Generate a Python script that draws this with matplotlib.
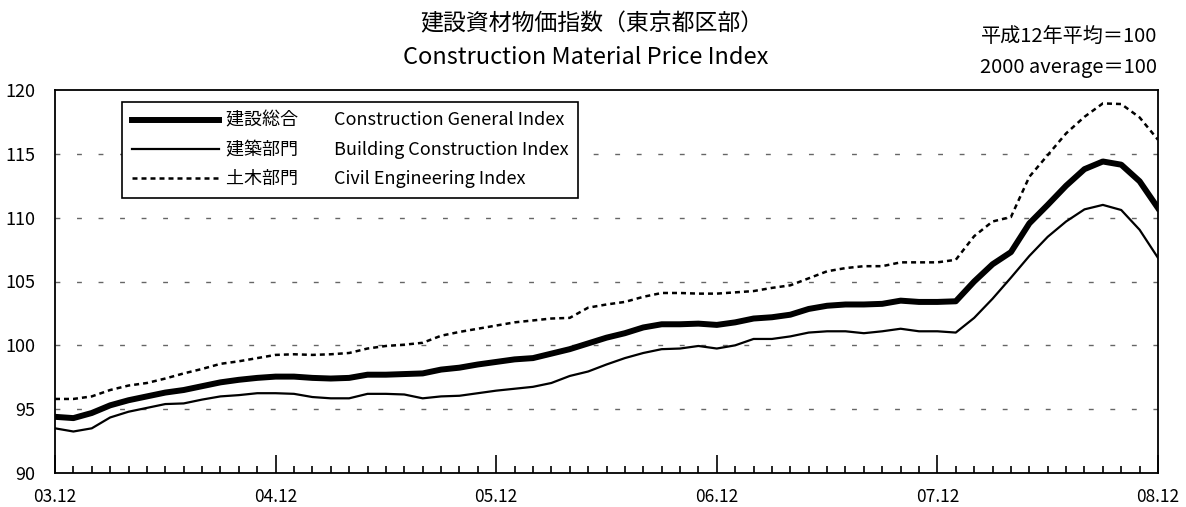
import numpy as np
import matplotlib
matplotlib.use('Agg')
from matplotlib import pyplot as plt
from matplotlib.ticker import MultipleLocator

plt.rcParams['font.family'] = ['Noto Sans CJK JP', 'DejaVu Sans']

# monthly values, Dec 2003 .. Dec 2008
general = [94.4, 94.3, 94.7, 95.3, 95.7, 96.0, 96.3, 96.5, 96.8, 97.1,
           97.3, 97.45, 97.55, 97.55, 97.45, 97.4, 97.45, 97.7, 97.7, 97.75,
           97.8, 98.1, 98.25, 98.5, 98.7, 98.9, 99.0, 99.35, 99.7, 100.15,
           100.6, 100.95, 101.4, 101.65, 101.65, 101.7, 101.6, 101.8, 102.1, 102.2,
           102.4, 102.85, 103.1, 103.2, 103.2, 103.25, 103.5, 103.4, 103.4, 103.45,
           105.0, 106.35, 107.3, 109.55, 111.0, 112.5, 113.8, 114.4, 114.15, 112.85,
           110.75]
building = [93.5, 93.25, 93.5, 94.35, 94.8, 95.1, 95.4, 95.45, 95.75, 96.0,
            96.1, 96.25, 96.25, 96.2, 95.95, 95.85, 95.85, 96.2, 96.2, 96.15,
            95.85, 96.0, 96.05, 96.25, 96.45, 96.6, 96.75, 97.05, 97.6, 97.95,
            98.5, 99.0, 99.4, 99.7, 99.75, 99.95, 99.75, 100.0, 100.5, 100.5,
            100.7, 101.0, 101.1, 101.1, 100.95, 101.1, 101.3, 101.1, 101.1, 101.0,
            102.15, 103.65, 105.3, 107.0, 108.5, 109.7, 110.65, 111.0, 110.6, 109.05,
            106.85]
civil = [95.8, 95.8, 96.0, 96.5, 96.85, 97.05, 97.4, 97.8, 98.15, 98.55,
         98.75, 99.0, 99.25, 99.3, 99.25, 99.3, 99.4, 99.75, 99.95, 100.05,
         100.2, 100.75, 101.05, 101.3, 101.55, 101.8, 101.95, 102.1, 102.15, 102.95,
         103.2, 103.4, 103.8, 104.1, 104.1, 104.05, 104.05, 104.15, 104.25, 104.5,
         104.7, 105.25, 105.8, 106.05, 106.2, 106.2, 106.5, 106.5, 106.5, 106.7,
         108.55, 109.7, 110.05, 113.2, 114.9, 116.6, 117.9, 118.95, 118.9, 117.85,
         116.1]
year_labels = ['03.12', '04.12', '05.12', '06.12', '07.12', '08.12']
series_labels = ['建設総合　　Construction General Index',
                 '建築部門　　Building Construction Index',
                 '土木部門　　Civil Engineering Index']

months = np.arange(len(general))

fig = plt.figure(figsize=(11.86, 5.07), dpi=100)
ax = fig.add_axes([55 / 1186, 1 - 473 / 507, 1103 / 1186, 383 / 507])

ax.plot(months, general, color='black', lw=4.3, label=series_labels[0])
ax.plot(months, building, color='black', lw=1.6, label=series_labels[1])
ax.plot(months, civil, color='black', lw=1.8, ls=(0, (2, 1.6)),
        label=series_labels[2])

ax.set_xlim(0, 60)
ax.set_ylim(90, 120)
ax.set_yticks([90, 95, 100, 105, 110, 115, 120])
for v in [95, 100, 105, 110, 115]:
    ax.axhline(v, color='#666666', lw=1.0, ls=(0, (3.5, 12)), zorder=0)

ax.set_xticks(np.arange(0, 61, 12))
ax.set_xticklabels(year_labels)
ax.xaxis.set_minor_locator(MultipleLocator(1))
ax.tick_params(axis='x', which='major', direction='in', length=13, width=1.2,
               labelsize=12.5, pad=11)
ax.tick_params(axis='x', which='minor', direction='in', length=5, width=1.2)
ax.tick_params(axis='y', which='major', direction='in', length=0,
               labelsize=13, pad=14)
for s in ax.spines.values():
    s.set_linewidth(1.3)

leg = ax.legend(loc='upper left', bbox_to_anchor=(67 / 1103, 1 - 12 / 383),
                fontsize=13, frameon=True, fancybox=False, framealpha=1,
                edgecolor='black', handlelength=4.8, handletextpad=0.4,
                borderpad=0.55, labelspacing=0.55, borderaxespad=0)
leg.get_frame().set_linewidth(1.2)

fig.text(420 / 1186, 1 - 24 / 507, '建設資材物価指数（東京都区部）',
         fontsize=16.5, ha='left', va='center')
fig.text(403 / 1186, 1 - 58 / 507, 'Construction Material Price Index',
         fontsize=17, ha='left', va='center')
fig.text(1157 / 1186, 1 - 37 / 507, '平成12年平均＝100',
         fontsize=14.5, ha='right', va='center')
fig.text(1157 / 1186, 1 - 67 / 507, '2000 average＝100',
         fontsize=14.5, ha='right', va='center')

fig.savefig('out.png', dpi=100)
